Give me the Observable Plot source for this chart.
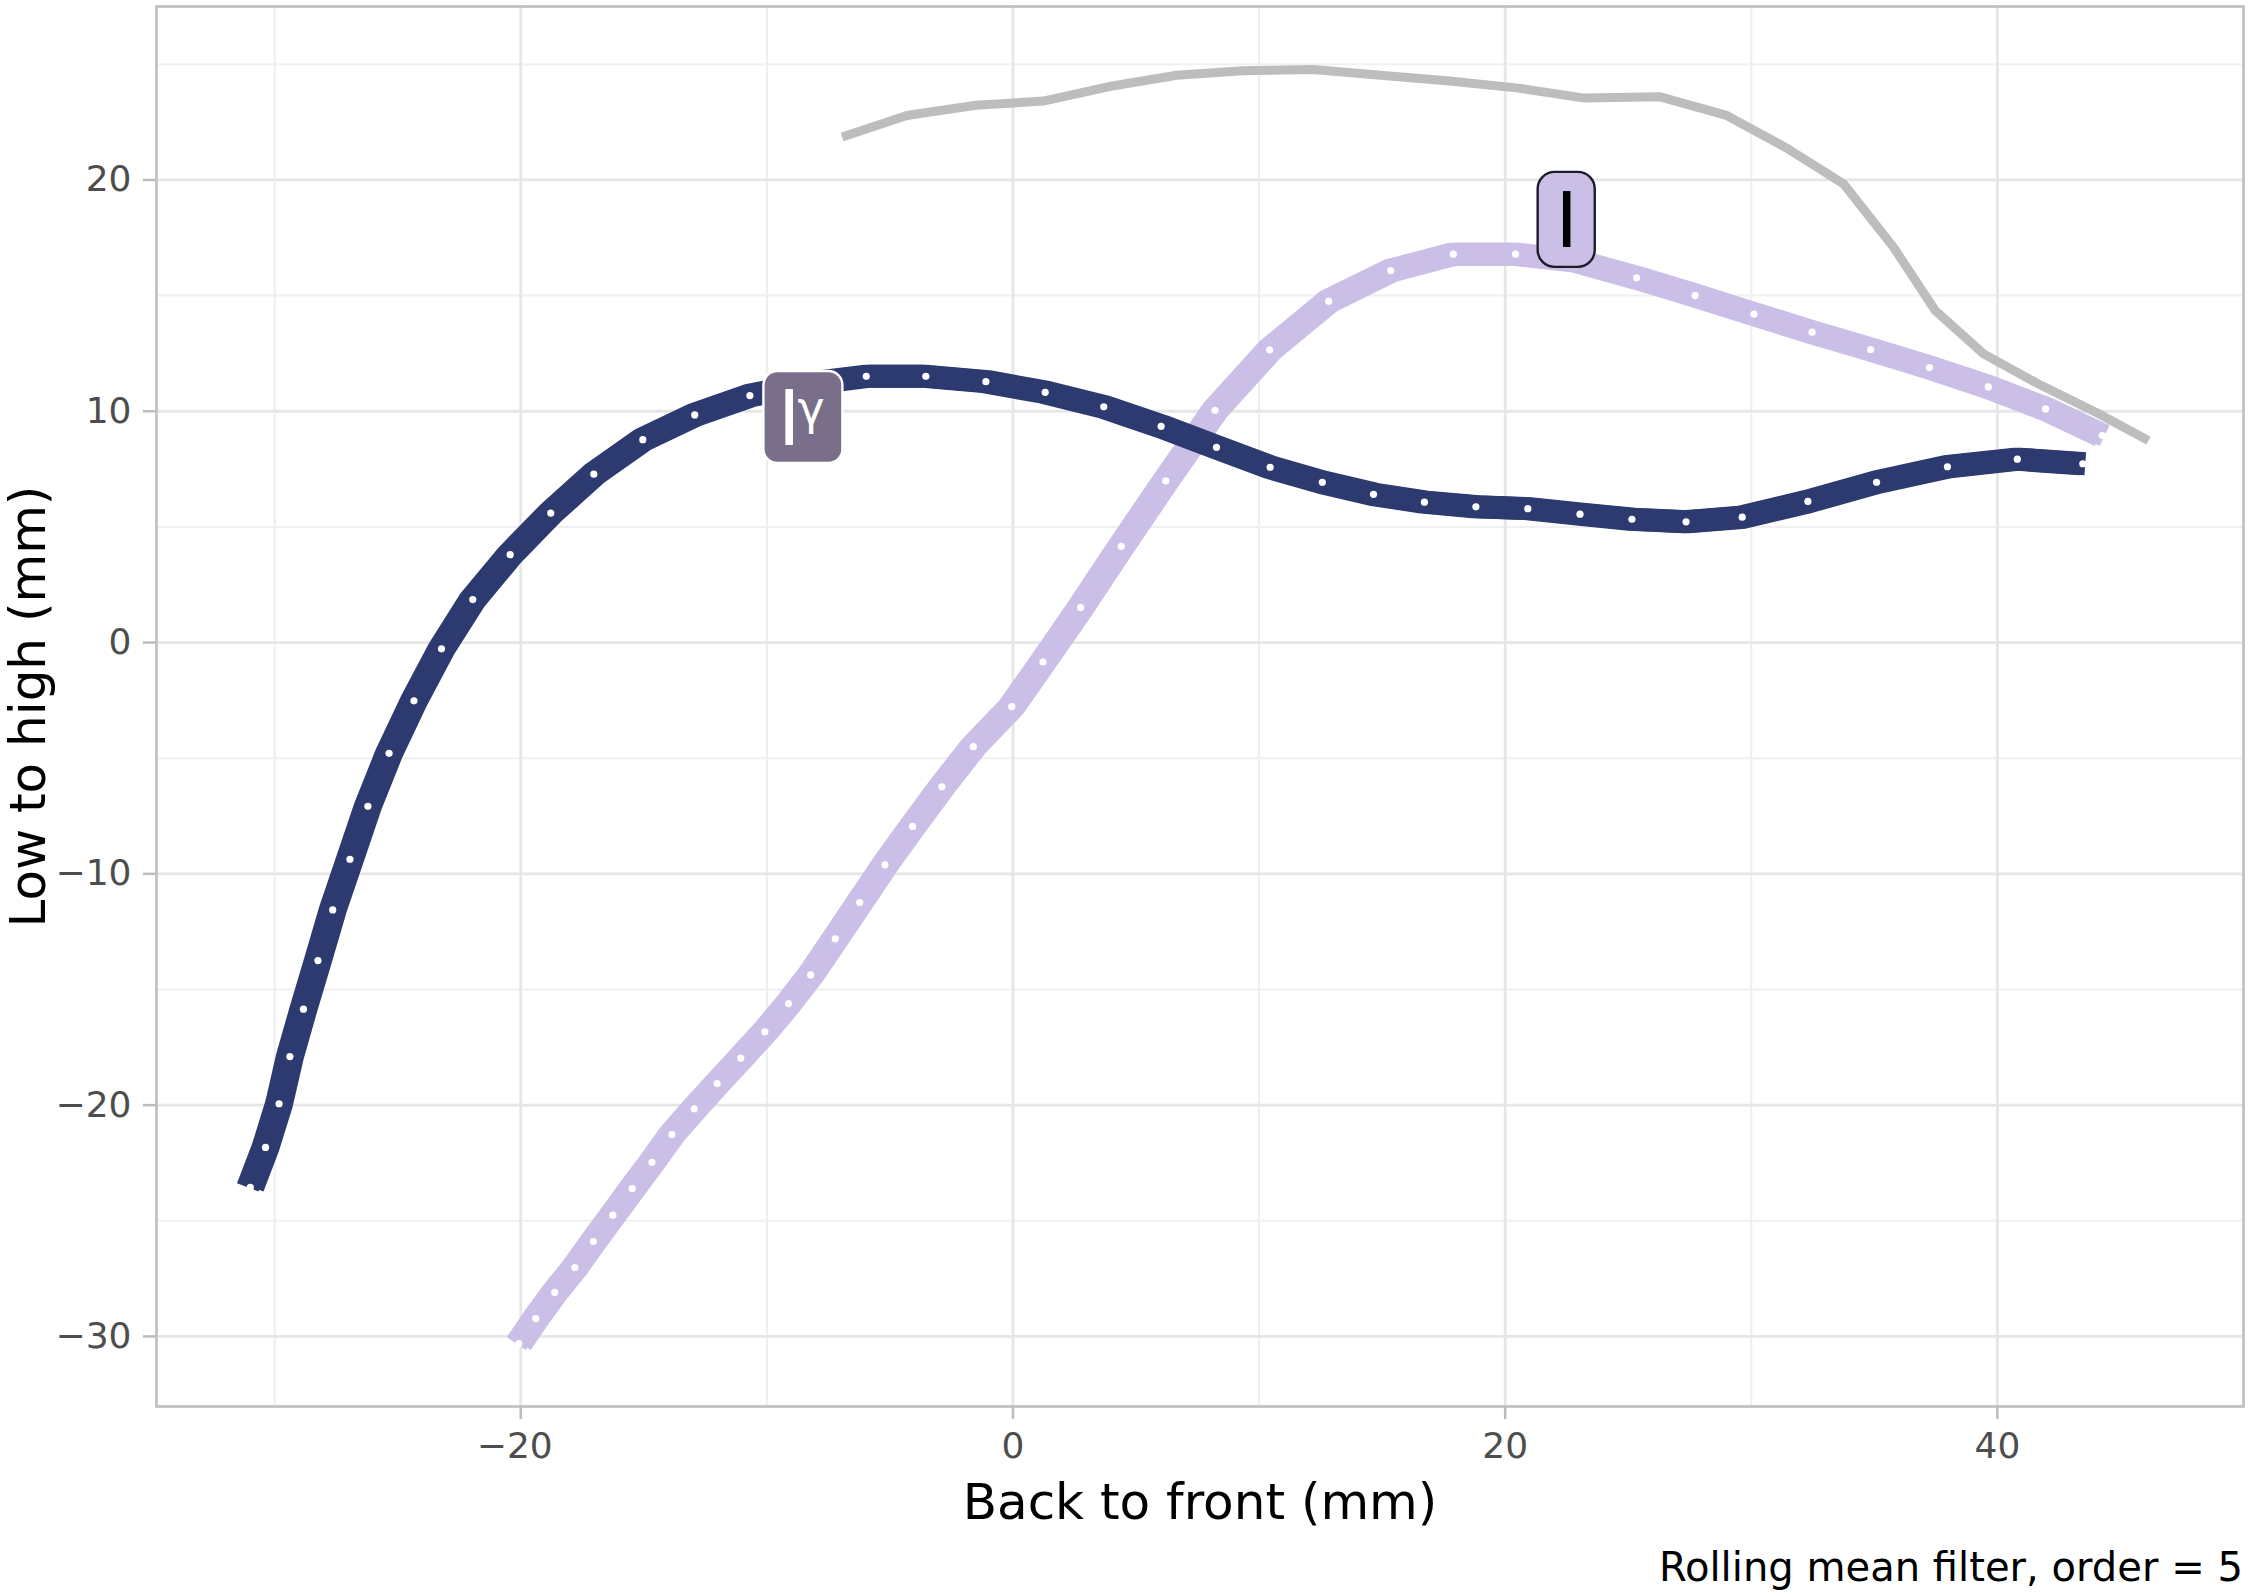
<!DOCTYPE html>
<html>
<head>
<meta charset="utf-8">
<script src="https://cdn.jsdelivr.net/npm/d3@7"></script>
<script src="https://cdn.jsdelivr.net/npm/@observablehq/plot@0.6"></script>
<style>
html,body{margin:0;padding:0;background:#fff;}
#chart svg{display:block;}
#caption{font-family:"DejaVu Sans",sans-serif;font-size:40.1px;line-height:66px;height:62px;padding-top:4px;padding-right:7px;text-align:right;color:#000;white-space:nowrap;}
</style>
</head>
<body>
<div id="chart"></div>
<div id="caption">Rolling mean filter, order = 5</div>
<script>
const navyX = [-30.99,-30.37,-29.82,-29.38,-28.83,-28.24,-27.64,-26.94,-26.21,-25.35,-24.34,-23.22,-21.95,-20.43,-18.78,-17.03,-15.04,-12.93,-10.69,-8.3,-5.96,-3.54,-1.10,1.31,3.69,6.02,8.27,10.45,12.57,14.65,16.72,18.81,20.92,23.04,25.15,27.35,29.63,32.3,35.09,37.97,40.81,43.47];
const navyY = [-23.56,-21.83,-19.94,-17.90,-15.85,-13.75,-11.56,-9.37,-7.08,-4.79,-2.52,-0.27,1.86,3.80,5.6,7.28,8.77,9.84,10.68,11.2,11.51,11.51,11.28,10.82,10.19,9.35,8.44,7.58,6.93,6.41,6.07,5.87,5.79,5.55,5.33,5.22,5.42,6.10,6.93,7.6,7.93,7.73];
const lavX = [-20.08,-19.39,-18.62,-17.80,-17.05,-16.26,-15.47,-14.67,-13.86,-12.95,-12.02,-11.06,-10.08,-9.12,-8.22,-7.22,-6.23,-5.20,-4.08,-2.89,-1.61,-0.05,1.22,2.75,4.40,6.21,8.21,10.43,12.83,15.35,17.89,20.42,22.9,25.34,27.72,30.11,32.47,34.85,37.24,39.63,41.96,44.26];
const lavY = [-30.31,-29.23,-28.10,-27.02,-25.90,-24.76,-23.61,-22.47,-21.27,-20.16,-19.07,-17.97,-16.83,-15.61,-14.37,-12.81,-11.24,-9.61,-7.95,-6.24,-4.50,-2.77,-0.84,1.51,4.16,6.99,10.04,12.65,14.76,16.08,16.79,16.79,16.49,15.77,15.0,14.2,13.42,12.67,11.89,11.05,10.1,8.95];
const grayX = [-6.94,-4.31,-1.51,1.23,3.91,6.65,9.34,12.2,14.94,17.74,20.54,23.22,26.26,29.0,31.45,33.75,35.78,37.48,39.44,41.63,44.1,46.14];
const grayY = [21.86,22.79,23.23,23.41,24.04,24.53,24.72,24.78,24.53,24.28,23.97,23.54,23.6,22.79,21.37,19.83,17.09,14.35,12.48,11.2,9.9,8.73];
const xMajor = [-20,0,20,40];
const xMinor = [-30,-10,10,30];
const yMajor = [-30,-20,-10,0,10,20];
const yMinor = [-25,-15,-5,5,15,25];
const labelNames = ["I\u03b3","I"];
const labelX1 = [-10.12,21.34];
const labelX2 = [-6.91,23.66];
const labelY1 = [7.74,16.22];
const labelY2 = [11.72,20.33];
const labelFills = ["#7a6f8a","#cbbfe8"];
const labelStrokes = ["#ffffff","#1c1c2a"];
const labelInk = ["#ffffff","#000000"];
const labelRadius = [14,17];

const toRows = (xs, ys) => xs.map((x,i)=>({x, y:ys[i]}));
const navy = toRows(navyX, navyY), lav = toRows(lavX, lavY), gray = toRows(grayX, grayY);
const labels = labelNames.map((name,i)=>({name, x1:labelX1[i], x2:labelX2[i], y1:labelY1[i], y2:labelY2[i],
  cx:(labelX1[i]+labelX2[i])/2, cy:(labelY1[i]+labelY2[i])/2, fill:labelFills[i], stroke:labelStrokes[i], ink:labelInk[i], rx:labelRadius[i]}));

const tickStyle = {tickSize:13, fontSize:36, stroke:"#bcbcbc", strokeWidth:2.5, color:"#4d4d4d", fill:"#4d4d4d", label:null};
const lineStyle = {x:"x", y:"y", curve:"linear", strokeLinecap:"butt", strokeLinejoin:"round"};
const dotStyle = {x:"x", y:"y", r:3.6, fill:"#ffffff", stroke:"none"};
// The reference ribbons are wider across steep runs than flat ones: two strokes a little apart in x.
const ribbon = (rows, stroke) => [-2.5, 2.5].map(dx => Plot.line(rows, {...lineStyle, stroke, strokeWidth:23, dx}));

const plot = Plot.plot({
  width:2250, height:1530,
  marginLeft:156, marginRight:7, marginTop:6, marginBottom:124,
  style:{fontFamily:"DejaVu Sans", background:"#ffffff"},
  x:{domain:[-34.8,50]},
  y:{domain:[-33.03,27.5]},
  marks:[
    Plot.gridX(xMinor,{stroke:"#eeeeee",strokeOpacity:1,strokeWidth:2}),
    Plot.gridY(yMinor,{stroke:"#f0f0f0",strokeOpacity:1,strokeWidth:2}),
    Plot.gridX(xMajor,{stroke:"#e6e6e6",strokeOpacity:1,strokeWidth:2.8}),
    Plot.gridY(yMajor,{stroke:"#e6e6e6",strokeOpacity:1,strokeWidth:2.8}),
    Plot.frame({stroke:"#c2c2c2",strokeWidth:2.8}),
    Plot.axisX(xMajor,{...tickStyle, tickPadding:13}),
    Plot.axisY(yMajor,{...tickStyle, tickPadding:12}),
    Plot.text(["Back to front (mm)"],{frameAnchor:"bottom",lineAnchor:"bottom",dy:112,fontSize:50,fill:"#000"}),
    Plot.text(["Low to high (mm)"],{frameAnchor:"left",textAnchor:"middle",lineAnchor:"bottom",rotate:-90,dx:-112,fontSize:50,fill:"#000"}),
    ...ribbon(lav,"#cbbfe8"),
    Plot.dot(lav,dotStyle),
    ...ribbon(navy,"#2c3a70"),
    Plot.dot(navy,dotStyle),
    Plot.line(gray,{...lineStyle,stroke:"#bdbdbd",strokeWidth:9}),
    ...labels.map(d => Plot.rect([d],{x1:"x1",x2:"x2",y1:"y1",y2:"y2",fill:"fill",stroke:"stroke",strokeWidth:2.4,rx:d.rx})),
    Plot.text(labels,{x:"cx",y:"cy",text:"name",fill:"ink",fontSize:76,dy:3})
  ]
});
// The smaller raised gamma stays inside the one real text element of its label.
d3.select(plot).selectAll("text").each(function(){
  if (this.textContent === labelNames[0]) {
    const t = d3.select(this); t.text(null);
    t.append("tspan").attr("dx",-2).text("I");
    t.append("tspan").attr("font-size",46).attr("dx",-3).attr("dy",-21).text("\u03b3");
  }
});
// The negative x tick label sits a little left of its tick, as in the reference.
d3.select(plot).selectAll('g[aria-label="x-axis tick label"] text').each(function(){
  if (this.textContent.startsWith("\u2212")) this.setAttribute("dx", -6);
});
document.getElementById("chart").appendChild(plot);
</script>
</body>
</html>
